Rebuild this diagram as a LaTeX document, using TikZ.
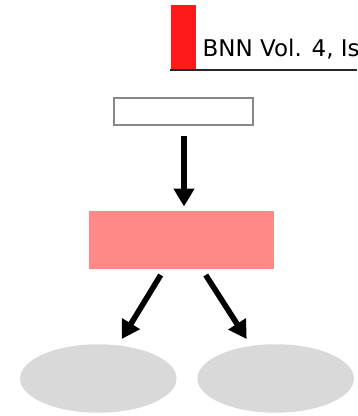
\documentclass[tikz,border=0pt]{standalone}
\usepackage{fontspec}
\setmainfont{DejaVu Sans}
\usetikzlibrary{arrows.meta,shapes.geometric}
\definecolor{hdred}{HTML}{FF1A1A}
\definecolor{pinkbox}{HTML}{FF8888}
\definecolor{ellgray}{HTML}{D9D9D9}
\definecolor{boxgray}{HTML}{888888}
\tikzset{
  bigarrow/.style={line width=5.6pt,-{Triangle[width=20pt,length=18pt]}},
  ellnode/.style={ellipse,fill=ellgray,minimum width=156.5pt,minimum height=68.5pt,inner sep=0pt,draw=none},
}
\begin{document}
\begin{tikzpicture}[x=1pt,y=-1pt]
\useasboundingbox (0,0) rectangle (357,416);
% header
\fill[hdred] (170.5,5) rectangle (195.5,70);
\node[anchor=base west,inner sep=0pt,font=\fontsize{23}{26}\selectfont] (title) at (202.5,56) {BNN Vol. 4, Issue};
\draw[line width=1.6pt,black!85] (170,70) -- (357,70);
% boxes
\node[draw=boxgray,line width=2pt,fill=white,minimum width=139pt,minimum height=27.5pt,inner sep=0pt] (top) at (183,111.3) {};
\node[fill=pinkbox,minimum width=185pt,minimum height=58.3pt,inner sep=0pt] (mid) at (181.8,240.2) {};
\node[ellnode] (left) at (98.3,378.5) {};
\node[ellnode] (right) at (275.7,378.5) {};
% arrow ends
\coordinate (a1s) at (184,136);
\coordinate (a1e) at (184,206.5);
\coordinate (a2s) at (160.7,275);
\coordinate (a2e) at (121.7,339);
\coordinate (a3s) at (205.7,275);
\coordinate (a3e) at (246.7,339);
\draw[bigarrow] (a1s) -- (a1e);
\draw[bigarrow] (a2s) -- (a2e);
\draw[bigarrow] (a3s) -- (a3e);
\end{tikzpicture}
\end{document}
